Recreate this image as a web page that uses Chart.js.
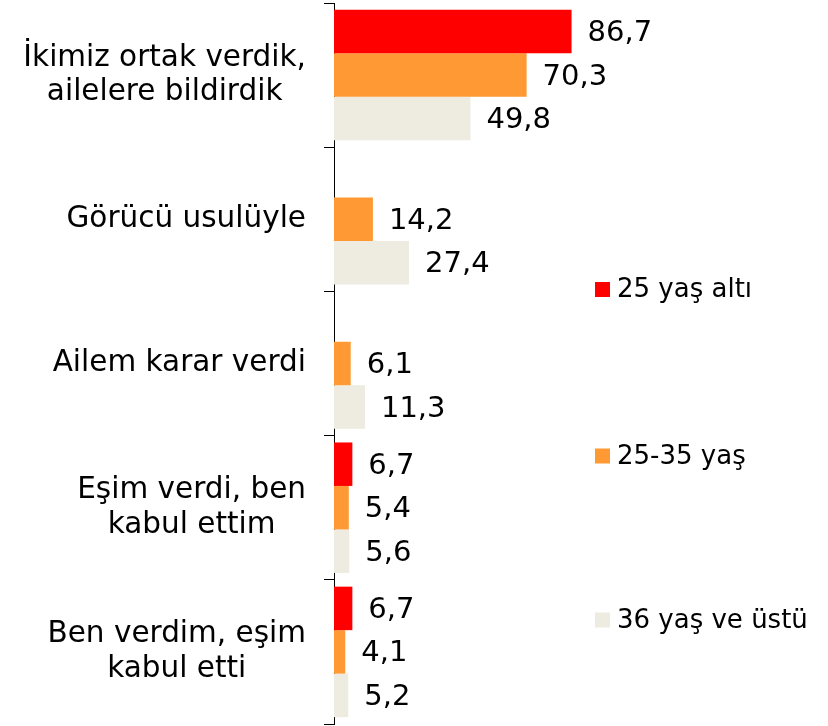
<!DOCTYPE html>
<html>
<head>
<meta charset="utf-8">
<script src="https://cdn.jsdelivr.net/npm/chart.js@4.4.1/dist/chart.umd.min.js"></script>
<style>
html, body { margin: 0; padding: 0; background: #fff; }
</style>
</head>
<body>
<canvas id="chart" width="828" height="726"></canvas>
<script>
// data
const categories = [
    ["İkimiz ortak verdik,", "ailelere bildirdik"],
    "Görücü usulüyle",
    "Ailem karar verdi",
    ["Eşim verdi, ben", "kabul ettim"],
    ["Ben verdim, eşim", "kabul etti"]
];
const seriesNames = ["25 yaş altı", "25-35 yaş", "36 yaş ve üstü"];
const under25 = [86.7, null, null, 6.7, 6.7];
const age25to35 = [70.3, 14.2, 6.1, 5.4, 4.1];
const over36 = [49.8, 27.4, 11.3, 5.6, 5.2];
const seriesColors = ["#FF0000", "#FF9933", "#EEECE1"];

const fontFamily = "'DejaVu Sans', Verdana, sans-serif";

// category names: block right-aligned against the axis, lines centred inside it
const categoryLabels = {
    id: "categoryLabels",
    afterDraw(chart) {
        const ctx = chart.ctx;
        const yScale = chart.scales.y;
        ctx.save();
        ctx.font = "29.5px " + fontFamily;
        ctx.fillStyle = "#000";
        ctx.textAlign = "center";
        ctx.textBaseline = "middle";
        const right = yScale.right - 28;
        const lineH = 34.5;
        yScale.ticks.forEach((t, i) => {
            const lines = [].concat(categories[i]);
            const w = Math.max(...lines.map(l => ctx.measureText(l).width));
            const cx = right - w / 2;
            const y0 = yScale.getPixelForTick(i) - (lines.length - 1) * lineH / 2;
            lines.forEach((l, j) => ctx.fillText(l, cx, y0 + j * lineH));
        });
        ctx.restore();
    }
};

// value next to each bar, decimal comma
const valueLabels = {
    id: "valueLabels",
    afterDatasetsDraw(chart) {
        const ctx = chart.ctx;
        ctx.save();
        ctx.font = "29px " + fontFamily;
        ctx.fillStyle = "#000";
        ctx.textAlign = "left";
        ctx.textBaseline = "middle";
        chart.data.datasets.forEach((ds, di) => {
            chart.getDatasetMeta(di).data.forEach((bar, i) => {
                const v = ds.data[i];
                if (v == null) return;
                ctx.fillText(v.toFixed(1).replace(".", ","), bar.x + 16, bar.y + 2);
            });
        });
        ctx.restore();
    }
};

// legend on the right, spread out like the original
const sideLegend = {
    id: "sideLegend",
    afterDraw(chart) {
        const ctx = chart.ctx;
        const rows = [289.5, 456, 620];
        ctx.save();
        ctx.font = "26px " + fontFamily;
        ctx.textAlign = "left";
        ctx.textBaseline = "middle";
        chart.data.datasets.forEach((ds, i) => {
            ctx.fillStyle = ds.backgroundColor;
            ctx.fillRect(595, rows[i] - 7.5, 15, 15);
            ctx.fillStyle = "#000";
            ctx.fillText(ds.label, 617, rows[i] + 1);
        });
        ctx.restore();
    }
};

const seriesData = [under25, age25to35, over36];

new Chart(document.getElementById("chart"), {
    type: "bar",
    data: {
        labels: categories,
        datasets: seriesNames.map((name, i) => ({
            label: name,
            data: seriesData[i],
            backgroundColor: seriesColors[i],
            borderWidth: 0,
            categoryPercentage: 0.905,
            barPercentage: 1.0
        }))
    },
    options: {
        indexAxis: "y",
        responsive: false,
        animation: false,
        devicePixelRatio: 1,
        layout: {
            padding: { top: 3, bottom: 2, left: 0, right: 220 }
        },
        scales: {
            x: {
                display: false,
                min: 0,
                max: 100
            },
            y: {
                afterFit: (scale) => { scale.width = 334; },
                ticks: { display: false },
                grid: {
                    offset: true,
                    drawOnChartArea: false,
                    drawTicks: true,
                    tickLength: 10,
                    color: "#000"
                },
                border: { display: true, color: "#000", width: 1 }
            }
        },
        plugins: {
            legend: { display: false },
            tooltip: { enabled: false }
        }
    },
    plugins: [categoryLabels, valueLabels, sideLegend]
});
</script>
</body>
</html>
